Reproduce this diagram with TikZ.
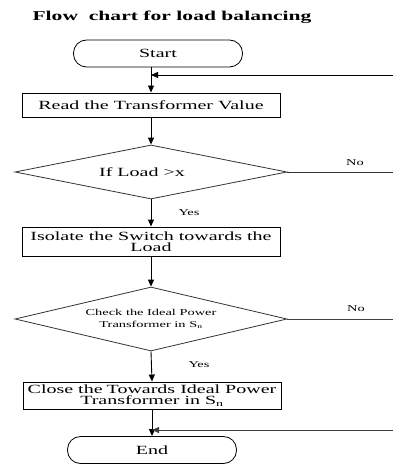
\documentclass[tikz,border=0pt]{standalone}
\usepackage{fontspec}
\setmainfont{Liberation Serif}[FakeStretch=1.6]
\usepackage{tikz}
\usetikzlibrary{arrows.meta,shapes.geometric}

\begin{document}
\begin{tikzpicture}[x=1pt, y=-1pt,
    every node/.style={font=\fontsize{12.5}{11}\selectfont},
    box/.style={draw, line width=0.9pt, minimum width=258pt, inner sep=1pt, align=center},
    term/.style={draw, line width=0.8pt, rounded corners=13pt, minimum width=169pt, minimum height=27pt},
    decision/.style={draw=black!80, diamond, aspect=5, line width=0.8pt, minimum width=272pt, minimum height=54pt, inner sep=0pt, align=center},
    flow/.style={line width=0.9pt, -{Triangle[length=7pt,width=6pt]}},
    small/.style={font=\fontsize{9}{12}\selectfont}]

\useasboundingbox (0,0) rectangle (393,465);

% Title
\node[font=\fontsize{13.5}{15}\selectfont\bfseries] (title) at (172,17) {Flow~ chart for load balancing};

% Steps
\node[term] (start) at (158,53.5) {Start};
\node[box, minimum height=24pt] (read) at (151,105) {Read the Transformer Value};
\node[decision] (chk1) at (151,172) {If Load >x\hspace{18pt}};
\node[box, minimum height=29pt] (isolate) at (151,241.5) {Isolate the Switch towards the\\Load};
\node[decision, minimum height=64pt, small] (chk2) at (151,319) {Check the Ideal Power\\Transformer in S\textsubscript{n}};
\node[box, minimum height=27pt] (close) at (152,395.5) {Close the\hspace{4pt}Towards Ideal Power\\Transformer in S\textsubscript{n}};
\node[term] (end) at (152,450) {End};

% Labels
\node[small] (yes1) at (189,213) {Yes};
\node[small] (yes2) at (199,365) {Yes};
\node[small] (no1) at (355,163) {No};
\node[small] (no2) at (356,309) {No};

% Loose ends at the right edge
\coordinate (loopA) at (393,75);
\coordinate (loopB) at (393,430);
\coordinate (noA) at (393,172);
\coordinate (noB) at (393,319);

% Main flow
\draw[flow] (start.south -| read.north) -- (read.north);
\draw[flow] (read.south) -- (chk1.north);
\draw[flow] (chk1.south) -- (isolate.north);
\draw[flow] (isolate.south) -- (chk2.north);
\draw[flow] (chk2.south) -- (close.north);
\draw[flow] (close.south) -- (end.north);

% Side branches
\draw[line width=0.8pt, black!80] (chk1.east) -- (noA);
\draw[line width=0.8pt, black!75] (chk2.east) -- (noB);
\draw[flow] (loopA) -- (loopA -| read.north);
\draw[flow, black!75] (loopB) -- (loopB -| close.south);

\end{tikzpicture}
\end{document}
